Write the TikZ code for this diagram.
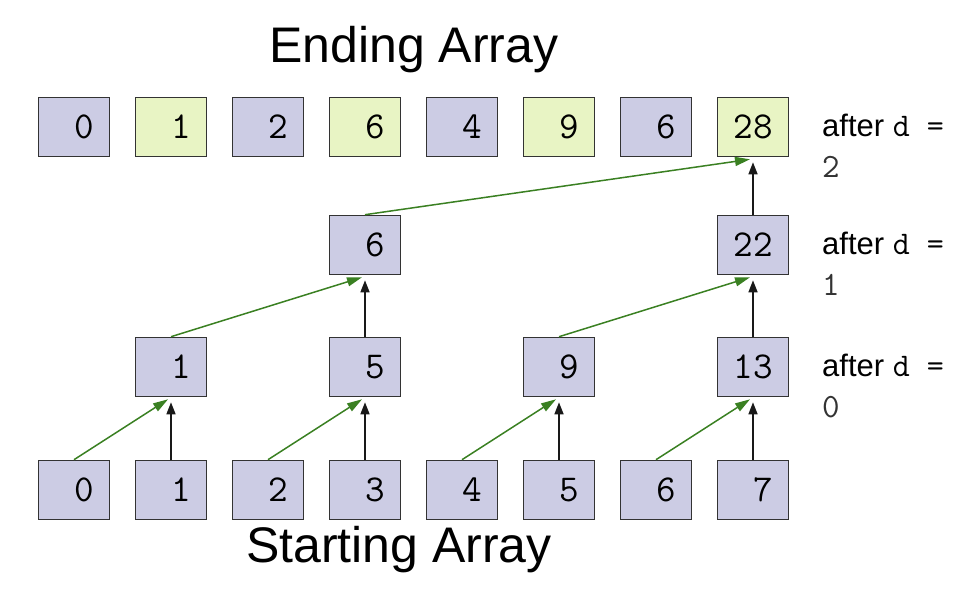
\documentclass[tikz,border=0pt]{standalone}
\usepackage{fontspec}
\setmainfont{Liberation Sans}
\usepackage{tikz}
\usetikzlibrary{arrows.meta, positioning, calc}

\definecolor{boxblue}{RGB}{204,204,228}
\definecolor{boxgreen}{RGB}{232,244,196}
\definecolor{boxline}{RGB}{51,51,51}
\definecolor{sumgreen}{RGB}{58,128,34}

% single digits sit one character to the right
\newcommand{\onedigit}[1]{\phantom{0}#1}

\begin{document}
\begin{tikzpicture}[
		x=1pt, y=-1pt,
		% array cell
		cell/.style={draw=boxline, line width=1.6pt, fill=boxblue,
			minimum width=71pt, minimum height=59pt, inner sep=0pt,
			font=\fontsize{38}{38}\selectfont\ttfamily},
		% cell of the ending array that holds a sum
		sumcell/.style={cell, fill=boxgreen},
		% title above and below
		title/.style={font=\fontsize{50}{50}\selectfont, anchor=base, inner sep=0pt},
		% "after d = .." on the right (placed at baseline of its last line)
		after/.style={font=\fontsize{31}{41}\selectfont, anchor=base west,
			align=left, inner sep=0pt},
		% copy upwards
		up/.style={-{Triangle[length=12pt, width=9pt]}, line width=1.5pt, black!90},
		% add left neighbour
		add/.style={-{Triangle[length=15pt, width=9pt]}, line width=1.5pt, sumgreen}
		]
		\useasboundingbox (0,0) rectangle (964,607);
		
		% === TITLES ===
		\node[title] (endtitle) at (414,63) {Ending Array};
		\node[title] (starttitle) at (399,562) {Starting Array};
		
		% === STARTING ARRAY ===
		\node[cell] (start0) at (74,490) {\onedigit{0}};
		\node[cell] (start1) at (171,490) {\onedigit{1}};
		\node[cell] (start2) at (268,490) {\onedigit{2}};
		\node[cell] (start3) at (365,490) {\onedigit{3}};
		\node[cell] (start4) at (462,490) {\onedigit{4}};
		\node[cell] (start5) at (559,490) {\onedigit{5}};
		\node[cell] (start6) at (656,490) {\onedigit{6}};
		\node[cell] (start7) at (753,490) {\onedigit{7}};
		
		% === AFTER d = 0 ===
		\node[cell] (dzero1) at (171,367) {\onedigit{1}};
		\node[cell] (dzero3) at (365,367) {\onedigit{5}};
		\node[cell] (dzero5) at (559,367) {\onedigit{9}};
		\node[cell] (dzero7) at (753,367) {13};
		
		% === AFTER d = 1 ===
		\node[cell] (done3) at (365,245) {\onedigit{6}};
		\node[cell] (done7) at (753,245) {22};
		
		% === ENDING ARRAY (after d = 2) ===
		\node[cell] (end0) at (74,127) {\onedigit{0}};
		\node[sumcell] (end1) at (171,127) {\onedigit{1}};
		\node[cell] (end2) at (268,127) {\onedigit{2}};
		\node[sumcell] (end3) at (365,127) {\onedigit{6}};
		\node[cell] (end4) at (462,127) {\onedigit{4}};
		\node[sumcell] (end5) at (559,127) {\onedigit{9}};
		\node[cell] (end6) at (656,127) {\onedigit{6}};
		\node[sumcell] (end7) at (753,127) {28};
		
		% === LABELS ===
		\node[after] (lbltwo) at (822,178)
		{after {\ttfamily\fontsize{33}{33}\selectfont d =}\\{\ttfamily\fontsize{34}{34}\selectfont\color{black!80} 2}};
		\node[after] (lblone) at (822,295)
		{after {\ttfamily\fontsize{33}{33}\selectfont d =}\\{\ttfamily\fontsize{34}{34}\selectfont\color{black!80} 1}};
		\node[after] (lblzero) at (822,417)
		{after {\ttfamily\fontsize{33}{33}\selectfont d =}\\{\ttfamily\fontsize{34}{34}\selectfont\color{black!80} 0}};
		
		% === d = 0 ARROWS ===
		\draw[add] (start0.north) -- ($(dzero1.south)+(-3,2)$);
		\draw[up] (start1.north) -- ($(dzero1.south)+(0,5)$);
		\draw[add] (start2.north) -- ($(dzero3.south)+(-3,2)$);
		\draw[up] (start3.north) -- ($(dzero3.south)+(0,5)$);
		\draw[add] (start4.north) -- ($(dzero5.south)+(-3,2)$);
		\draw[up] (start5.north) -- ($(dzero5.south)+(0,5)$);
		\draw[add] (start6.north) -- ($(dzero7.south)+(-3,2)$);
		\draw[up] (start7.north) -- ($(dzero7.south)+(0,5)$);
		
		% === d = 1 ARROWS ===
		\draw[add] (dzero1.north) -- ($(done3.south)+(-3,2)$);
		\draw[up] (dzero3.north) -- ($(done3.south)+(0,5)$);
		\draw[add] (dzero5.north) -- ($(done7.south)+(-3,2)$);
		\draw[up] (dzero7.north) -- ($(done7.south)+(0,5)$);
		
		% === d = 2 ARROWS ===
		\draw[add] (done3.north) -- ($(end7.south)+(-3,2)$);
		\draw[up] (done7.north) -- ($(end7.south)+(0,5)$);
		
	\end{tikzpicture}
\end{document}
